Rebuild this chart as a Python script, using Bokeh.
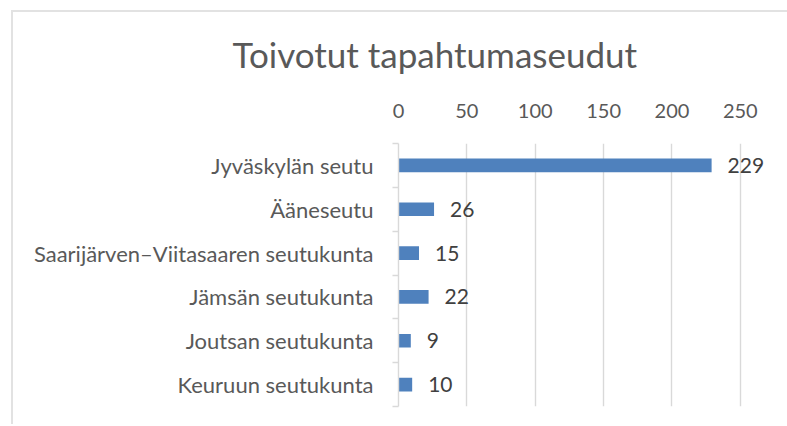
from bokeh.plotting import figure
from bokeh.models import ColumnDataSource, Range1d, FixedTicker, Title
from bokeh.core.properties import value
from bokeh.embed import file_html
from bokeh.resources import INLINE

# ---- data (bottom to top as drawn) ----
categories = [
    "Keuruun seutukunta",
    "Joutsan seutukunta",
    "Jämsän seutukunta",
    "Saarijärven–Viitasaaren seutukunta",
    "Ääneseutu",
    "Jyväskylän seutu",
]
values = [10, 9, 22, 15, 26, 229]
x_ticks = [0, 50, 100, 150, 200, 250]
title_text = "Toivotut tapahtumaseudut"

FONT = "Lato"
BAR = "#4F81BD"
GRID = "#d9d9d9"

positions = [i + 0.5 for i in range(len(categories))]
boundaries = list(range(len(categories) + 1))
src = ColumnDataSource(dict(y=positions, v=values, lbl=[str(v) for v in values]))

p = figure(
    frame_width=376, frame_height=263,
    x_range=Range1d(0, 275), y_range=Range1d(0, len(categories)),
    x_axis_location="above",
    output_backend="svg", toolbar_location=None,
    min_border_left=385, min_border_right=13, min_border_top=0, min_border_bottom=18,
)
p.styles = {
    "margin-left": "11px", "margin-top": "10px",
    "border-left": "2px solid #e2e2e2", "border-top": "2px solid #e2e2e2",
}

p.hbar(y="y", left=0, right="v", height=0.31, source=src,
       fill_color=BAR, line_color=None)
p.text(x="v", y="y", text="lbl", source=src, x_offset=16,
       text_align="left", text_baseline="middle",
       text_font=value(FONT), text_font_size="21px", text_color="#404040")

# x axis (top)
xa = p.xaxis[0]
xa.ticker = FixedTicker(ticks=x_ticks)
xa.axis_line_color = None
xa.major_tick_line_color = None
xa.minor_tick_line_color = None
xa.major_label_text_font = FONT
xa.major_label_text_font_size = "20px"
xa.major_label_text_color = "#595959"
xa.major_label_standoff = 20

p.xgrid.ticker = FixedTicker(ticks=x_ticks)
p.xgrid.grid_line_color = GRID
p.xgrid.grid_line_width = 1.4
p.ygrid.grid_line_color = None

# y axis (left)
ya = p.yaxis[0]
ya.ticker = FixedTicker(ticks=positions, minor_ticks=boundaries)
ya.major_label_overrides = {pos: cat for pos, cat in zip(positions, categories)}
ya.major_tick_line_color = None
ya.major_tick_out = 0
ya.major_tick_in = 0
ya.minor_tick_out = 6
ya.minor_tick_in = 0
ya.minor_tick_line_color = GRID
ya.minor_tick_line_width = 1.4
ya.axis_line_color = GRID
ya.axis_line_width = 1.4
ya.major_label_text_font = FONT
ya.major_label_text_font_size = "22px"
ya.major_label_text_color = "#595959"
ya.major_label_standoff = 19

p.outline_line_color = None

# spacer between axis labels and title
p.add_layout(Title(text=" ", text_font_size="5px", standoff=0), "above")

p.title.text = title_text
p.title.align = "left"
p.title.offset = -166
p.title.text_font = FONT
p.title.text_font_size = "35px"
p.title.text_font_style = "normal"
p.title.text_color = "#595959"
p.title.standoff = 36

open("out.html", "w").write(file_html(p, INLINE))
